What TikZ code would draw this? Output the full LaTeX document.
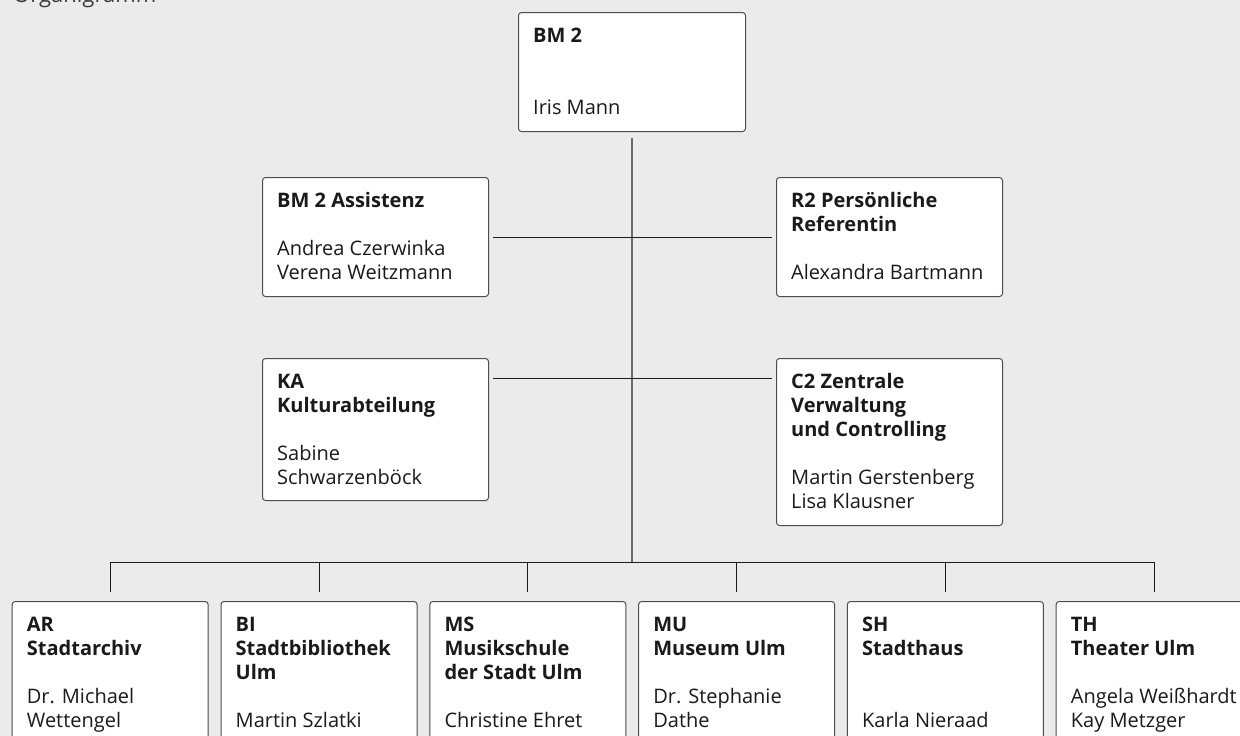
\documentclass[tikz,border=0pt]{standalone}
\usepackage{fontspec}
\setmainfont{Open Sans}

\definecolor{bggray}{HTML}{EBEBEB}
\definecolor{framegray}{HTML}{4D4D4D}
\definecolor{trunkgray}{HTML}{6B6B6B}
\definecolor{inkblack}{HTML}{1A1A1A}

\begin{document}
\begin{tikzpicture}[x=1pt,y=-1pt,
			unit/.style={draw=framegray, fill=white, line width=1pt, rounded corners=3pt,
				anchor=north west, inner sep=0pt},
			smallunit/.style={unit, minimum width=226pt, minimum height=119pt},
			lowunit/.style={unit, minimum width=196pt, minimum height=142pt},
			unittext/.style={anchor=north west, inner sep=0pt, align=left, text=inkblack,
				font=\fontsize{20}{24}\selectfont},
			conn/.style={draw=inkblack, line width=1pt},
			trunk/.style={draw=trunkgray, line width=1.5pt}]
			\path[use as bounding box] (0,0) rectangle (1240,736);
			\clip (0,0) rectangle (1240,736);
			\fill[bggray] (0,0) rectangle (1240,736);
			\node[anchor=base west, inner sep=0pt, text=inkblack!85,
				font=\fontsize{22}{26}\selectfont] (caption) at (13,2) {Organigramm};

			\node[unit, minimum width=227pt, minimum height=119pt] (bm) at (518,12) {};
			\node[unittext] (bmtext) at ([shift={(15pt,-13.5pt)}]bm.north west)
				{\strut\textbf{BM 2}\\ \\ \\Iris Mann};

			\node[smallunit] (asst) at (262,177) {};
			\node[unittext] (assttext) at ([shift={(15pt,-13.5pt)}]asst.north west)
				{\strut\textbf{BM 2 Assistenz}\\ \\Andrea Czerwinka\\Verena Weitzmann};
			\node[smallunit] (ref) at (776,177) {};
			\node[unittext] (reftext) at ([shift={(15pt,-13.5pt)}]ref.north west)
				{\strut\textbf{R2 Persönliche}\\\textbf{Referentin}\\ \\Alexandra Bartmann};

			\node[smallunit, minimum height=142pt] (ka) at (262,358) {};
			\node[unittext] (katext) at ([shift={(15pt,-13.5pt)}]ka.north west)
				{\strut\textbf{KA}\\\textbf{Kulturabteilung}\\ \\Sabine\\Schwarzenböck};
			\node[smallunit, minimum height=167pt] (c2) at (776,358) {};
			\node[unittext] (c2text) at ([shift={(15pt,-13.5pt)}]c2.north west)
				{\strut\textbf{C2 Zentrale}\\\textbf{Verwaltung}\\\textbf{und Controlling}\\ \\Martin Gerstenberg\\Lisa Klausner};

			\node[lowunit] (ar) at (11.7,601) {};
			\node[unittext] (artext) at ([shift={(15pt,-13pt)}]ar.north west)
				{\strut\textbf{AR}\\\textbf{Stadtarchiv}\\ \\Dr. Michael\\Wettengel};
			\node[lowunit] (bi) at (220.5,601) {};
			\node[unittext] (bitext) at ([shift={(15pt,-13pt)}]bi.north west)
				{\strut\textbf{BI}\\\textbf{Stadtbibliothek}\\\textbf{Ulm}\\ \\Martin Szlatki};
			\node[lowunit] (ms) at (429.3,601) {};
			\node[unittext] (mstext) at ([shift={(15pt,-13pt)}]ms.north west)
				{\strut\textbf{MS}\\\textbf{Musikschule}\\\textbf{der Stadt Ulm}\\ \\Christine Ehret};
			\node[lowunit] (mu) at (638.1,601) {};
			\node[unittext] (mutext) at ([shift={(15pt,-13pt)}]mu.north west)
				{\strut\textbf{MU}\\\textbf{Museum Ulm}\\ \\Dr. Stephanie\\Dathe};
			\node[lowunit] (sh) at (846.9,601) {};
			\node[unittext] (shtext) at ([shift={(15pt,-13pt)}]sh.north west)
				{\strut\textbf{SH}\\\textbf{Stadthaus}\\ \\ \\Karla Nieraad};
			\node[lowunit] (th) at (1055.7,601) {};
			\node[unittext] (thtext) at ([shift={(15pt,-13pt)}]th.north west)
				{\strut\textbf{TH}\\\textbf{Theater Ulm}\\ \\Angela Weißhardt\\Kay Metzger};

			\coordinate (bus) at (632,562);
			\draw[trunk, shorten <=6pt] (bm.south) -- (bus);
			\draw[conn, shorten <=4pt, shorten >=4pt] (asst.east) -- (ref.west);
			\draw[conn, shorten <=4pt, shorten >=4pt] ([yshift=-20pt]ka.north east) -- ([yshift=-20pt]c2.north west);
			\draw[conn] (ar.north |- bus) -- (th.north |- bus);
			\foreach \u in {ar,bi,ms,mu,sh,th}
				\draw[conn, shorten >=9pt] (\u.north |- bus) -- (\u.north);
\end{tikzpicture}
\end{document}
